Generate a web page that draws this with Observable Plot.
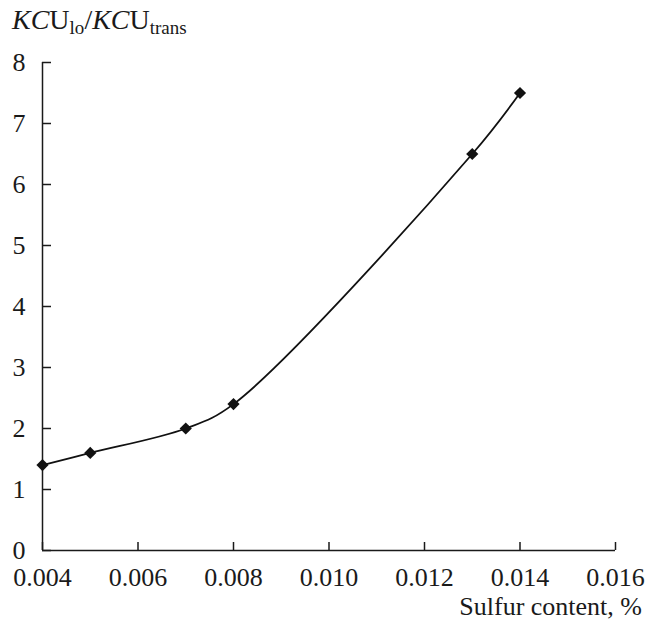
<!DOCTYPE html>
<html>
<head>
<meta charset="utf-8">
<script src="https://cdn.jsdelivr.net/npm/d3@7"></script>
<script src="https://cdn.jsdelivr.net/npm/@observablehq/plot@0.6"></script>
<style>
  html, body { margin: 0; padding: 0; background: #fff; }
  #wrap { position: relative; width: 646px; height: 624px; font-family: "Liberation Serif", "DejaVu Serif", serif; color: #1a1a1a; }
  #chart svg, #chart svg text { font-family: "Liberation Serif", "DejaVu Serif", serif !important; font-size: 26px !important; }
  #ytitle { position: absolute; left: 12px; top: 4px; font-size: 28px; white-space: nowrap; font-family: "Liberation Serif", serif; }
  #ytitle sub { font-size: 19px; vertical-align: -5px; line-height: 0; }
  #xtitle { position: absolute; right: 4px; top: 592px; font-size: 26px; white-space: nowrap; font-family: "Liberation Serif", serif; }
</style>
</head>
<body>
<div id="wrap">
  <div id="chart"></div>
  <div id="ytitle"><i>KC</i>U<sub>lo</sub>/<i>KC</i>U<sub>trans</sub></div>
  <div id="xtitle">Sulfur content, %</div>
</div>
<script>
const sulfur = [0.004, 0.005, 0.007, 0.008, 0.013, 0.014];
const ratio = [1.4, 1.6, 2.0, 2.4, 6.5, 7.5];
const xTicks = [0.004, 0.006, 0.008, 0.010, 0.012, 0.014, 0.016];
const yTicks = [0, 1, 2, 3, 4, 5, 6, 7, 8];

const data = sulfur.map((s, i) => ({s, r: ratio[i]}));

const chart = Plot.plot({
  width: 646,
  height: 624,
  marginLeft: 42,
  marginRight: 31,
  marginTop: 62,
  marginBottom: 74,
  style: {background: "#fff", color: "#1a1a1a"},
  x: {domain: [0.004, 0.016]},
  y: {domain: [0, 8]},
  marks: [
    Plot.axisX(xTicks, {tickSize: -8, tickPadding: 25, tickFormat: d3.format(".3f"), label: null, stroke: "#1a1a1a", strokeWidth: 1.5, fill: "#1a1a1a"}),
    Plot.axisY(yTicks, {tickSize: -9, tickPadding: 26, tickFormat: d3.format("d"), label: null, stroke: "#1a1a1a", strokeWidth: 1.5, fill: "#1a1a1a"}),
    Plot.ruleX([0.004], {stroke: "#1a1a1a", strokeWidth: 1.5}),
    Plot.ruleY([0], {stroke: "#1a1a1a", strokeWidth: 1.5}),
    Plot.line(data, {x: "s", y: "r", curve: "catmull-rom", stroke: "#111", strokeWidth: 1.8}),
    Plot.dot(data, {x: "s", y: "r", symbol: "diamond2", r: 5.5, fill: "#111", stroke: "none"})
  ]
});
document.getElementById("chart").appendChild(chart);
</script>
</body>
</html>
